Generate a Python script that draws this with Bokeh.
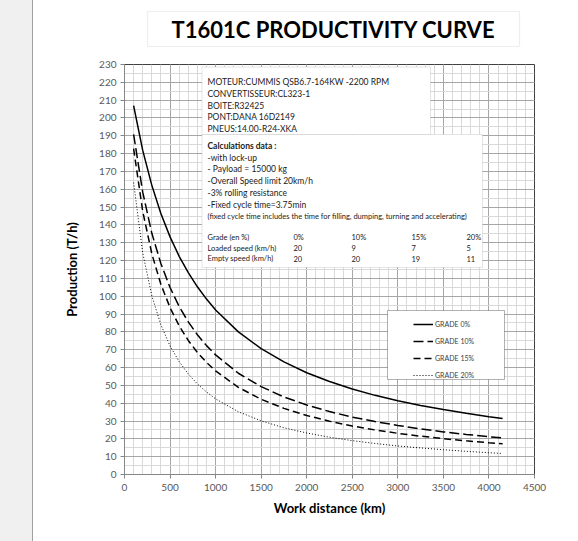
from bokeh.plotting import figure
from bokeh.layouts import row, column
from bokeh.models import (Range1d, SingleIntervalTicker, Label, BoxAnnotation,
                          Legend, LegendItem, Spacer)
from bokeh.embed import file_html
from bokeh.resources import INLINE

# ---------------- data ----------------
distance = [100, 200, 300, 400, 500, 600, 700, 800, 900, 1000, 1250, 1500,
            1750, 2000, 2250, 2500, 2750, 3000, 3250, 3500, 3750, 4000, 4150]
grade_0 = [206.9, 181.8, 162.2, 146.3, 133.3, 122.4, 113.2, 105.3, 98.4, 92.3,
           80.0, 70.6, 63.2, 57.1, 52.2, 48.0, 44.4, 41.4, 38.7, 36.4, 34.3,
           32.4, 31.4]
grade_10 = [190.8, 158.4, 135.3, 118.2, 104.9, 94.2, 85.6, 78.4, 72.3, 67.1,
            56.8, 49.3, 43.5, 39.0, 35.3, 32.2, 29.7, 27.5, 25.6, 23.9, 22.5,
            21.2, 20.5]
grade_15 = [182.8, 147.6, 123.8, 106.6, 93.6, 83.4, 75.2, 68.5, 62.9, 58.1,
            48.9, 42.2, 37.1, 33.1, 29.9, 27.2, 25.0, 23.1, 21.5, 20.1, 18.9,
            17.8, 17.2]
grade_20 = [163.8, 124.3, 100.2, 83.9, 72.1, 63.3, 56.4, 50.8, 46.3, 42.4,
            35.2, 30.1, 26.2, 23.3, 20.9, 19.0, 17.4, 16.0, 14.9, 13.9, 13.0,
            12.2, 11.8]
series_labels = ["GRADE 0%", "GRADE 10%", "GRADE 15%", "GRADE 20%"]

title_text = "T1601C PRODUCTIVITY CURVE"
x_label = "Work distance (km)"
y_label = "Production (T/h)"
spec_lines = ["MOTEUR:CUMMIS QSB6.7-164KW -2200 RPM", "CONVERTISSEUR:CL323-1",
              "BOITE:R32425", "PONT:DANA 16D2149", "PNEUS:14.00-R24-XKA"]
calc_title = "Calculations data :"
calc_lines = ["-with lock-up", "- Payload = 15000 kg",
              "-Overall Speed limit 20km/h", "-3% rolling resistance",
              "-Fixed cycle time=3.75min"]
calc_note = ("(fixed cycle time includes the time for filling, dumping, "
             "turning and accelerating)")
grade_cols = ["0%", "10%", "15%", "20%"]
loaded_speed = [20, 9, 7, 5]
empty_speed = [20, 20, 19, 11]

# ---------------- layout helpers (page px -> data) ----------------
FONT = "Lato"
STRIP = 33          # grey strip on the left of the page
TOP_H = 58          # height of the title strip
X0, X1, Y0, Y1 = 124, 534, 474, 64   # frame corners on the page


def dx(px):
    return (px - X0) * 4500 / (X1 - X0)


def dy(py):
    return (Y0 - py) * 230 / (Y0 - Y1)


def ty(py):
    return TOP_H - py


# ---------------- title strip (frame aligned with the chart frame) --------
top = figure(title=None, width=578 - STRIP, height=TOP_H,
             output_backend="svg", toolbar_location=None,
             x_range=Range1d(X0, X1), y_range=Range1d(0, TOP_H),
             x_axis_location=None, y_axis_location=None,
             min_border_left=X0 - STRIP, min_border_right=578 - X1,
             min_border_top=0, min_border_bottom=0)
top.grid.visible = False
top.outline_line_color = None
top.background_fill_color = "white"
top.border_fill_color = "white"
top.add_layout(BoxAnnotation(left=147, right=519, top=ty(11), bottom=ty(46),
                             fill_color="white", fill_alpha=1,
                             line_color="#c8c8c8", line_width=1.2))
top.add_layout(Label(x=333, y=ty(29), text=title_text, text_font=FONT,
                     text_font_size="22px", text_font_style="bold",
                     text_color="black", text_align="center",
                     text_baseline="middle"))

# ---------------- main chart ----------------
MAIN_H = 541 - TOP_H
p = figure(width=578 - STRIP, height=MAIN_H, output_backend="svg",
           toolbar_location=None,
           x_range=Range1d(0, 4500), y_range=Range1d(0, 230),
           min_border_left=X0 - STRIP, min_border_right=578 - X1,
           min_border_top=Y1 - TOP_H, min_border_bottom=541 - Y0)
p.background_fill_color = "white"
p.border_fill_color = "white"
p.outline_line_color = "#404040"

xt = SingleIntervalTicker(interval=500, num_minor_ticks=5)
yt = SingleIntervalTicker(interval=10, num_minor_ticks=2)
p.xaxis.ticker = xt
p.yaxis.ticker = yt
p.xgrid.ticker = xt
p.ygrid.ticker = yt
for g in (p.xgrid, p.ygrid):
    g.grid_line_color = "#a6a6a6"
    g.grid_line_width = 1
    g.minor_grid_line_color = "#d9d9d9"
    g.minor_grid_line_width = 1

for ax in (p.xaxis, p.yaxis):
    ax.axis_line_color = "#868686"
    ax.major_tick_line_color = "#868686"
    ax.major_tick_in = 0
    ax.major_tick_out = 4
    ax.minor_tick_line_color = None
    ax.major_label_text_font = FONT
    ax.major_label_text_font_size = "10px"
    ax.major_label_text_color = "#595959"
    ax.axis_label_text_font = FONT
    ax.axis_label_text_font_style = "bold"
    ax.axis_label_text_font_size = "13px"
    ax.axis_label_text_color = "black"
p.xaxis.axis_label = x_label
p.yaxis.axis_label = y_label
p.xaxis.major_label_standoff = 5
p.xaxis.axis_label_standoff = 6
p.yaxis.major_label_standoff = 4
p.yaxis.axis_label_standoff = 16

# ---------------- curves ----------------
r0 = p.line(distance, grade_0, line_color="black", line_width=1.5)
r10 = p.line(distance, grade_10, line_color="black", line_width=1.5,
             line_dash="10 4")
r15 = p.line(distance, grade_15, line_color="black", line_width=1.5,
             line_dash="7 4")
r20 = p.line(distance, grade_20, line_color="black", line_width=1,
             line_dash="1 2")

# ---------------- info boxes ----------------
p.add_layout(BoxAnnotation(left=dx(201.5), right=dx(430), top=dy(66.5),
                           bottom=dy(134), fill_color="white", fill_alpha=1,
                           line_color="#a6a6a6", line_width=1))
p.add_layout(BoxAnnotation(left=dx(201.5), right=dx(482), top=dy(134),
                           bottom=dy(267), fill_color="white", fill_alpha=1,
                           line_color="#a6a6a6", line_width=1))


def lab(text, px, py, size="8.5px", bold=False, color="#1a1a1a"):
    p.add_layout(Label(x=dx(px), y=dy(py), text=text, text_font=FONT,
                       text_font_size=size, text_color=color,
                       text_font_style="bold" if bold else "normal",
                       text_baseline="middle", text_align="left"))


for i, t in enumerate(spec_lines):
    lab(t, 207, 81.5 + i * 11.8)
lab(calc_title, 207, 145, bold=True)
for i, t in enumerate(calc_lines):
    lab(t, 207, 157 + i * 11.9)
lab(calc_note, 207, 216, size="7.5px")
col_x = [293, 351, 411, 466]
lab("Grade (en %)", 207, 237, size="7.5px")
lab("Loaded speed (km/h)", 207, 247.5, size="7.5px")
lab("Empty speed  (km/h)", 207, 258, size="7.5px")
for i in range(4):
    lab(grade_cols[i], col_x[i], 237, size="7.5px")
    lab(str(loaded_speed[i]), col_x[i], 247.5, size="7.5px")
    lab(str(empty_speed[i]), col_x[i], 258, size="7.5px")

# ---------------- legend ----------------
p.add_layout(BoxAnnotation(left=dx(387), right=dx(504), top=dy(310),
                           bottom=dy(379), fill_color="white", fill_alpha=1,
                           line_color="black", line_width=1))
legend = Legend(items=[LegendItem(label=series_labels[0], renderers=[r0]),
                       LegendItem(label=series_labels[1], renderers=[r10]),
                       LegendItem(label=series_labels[2], renderers=[r15]),
                       LegendItem(label=series_labels[3], renderers=[r20])],
                location=(289, 93.5), border_line_color=None,
                background_fill_alpha=0, padding=3, spacing=5, margin=0,
                glyph_width=20, glyph_height=12, label_height=12,
                label_standoff=2, label_text_font=FONT,
                label_text_font_size="7px", label_text_color="#404040")
p.add_layout(legend, "center")

strip = Spacer(width=STRIP, height=541,
               styles={"background-color": "#f0f0f0",
                       "border-right": "1px solid #a0a0a0",
                       "box-sizing": "border-box"})

layout = row(strip, column(top, p, spacing=0), spacing=0)

open("out.html", "w").write(file_html(layout, INLINE))
